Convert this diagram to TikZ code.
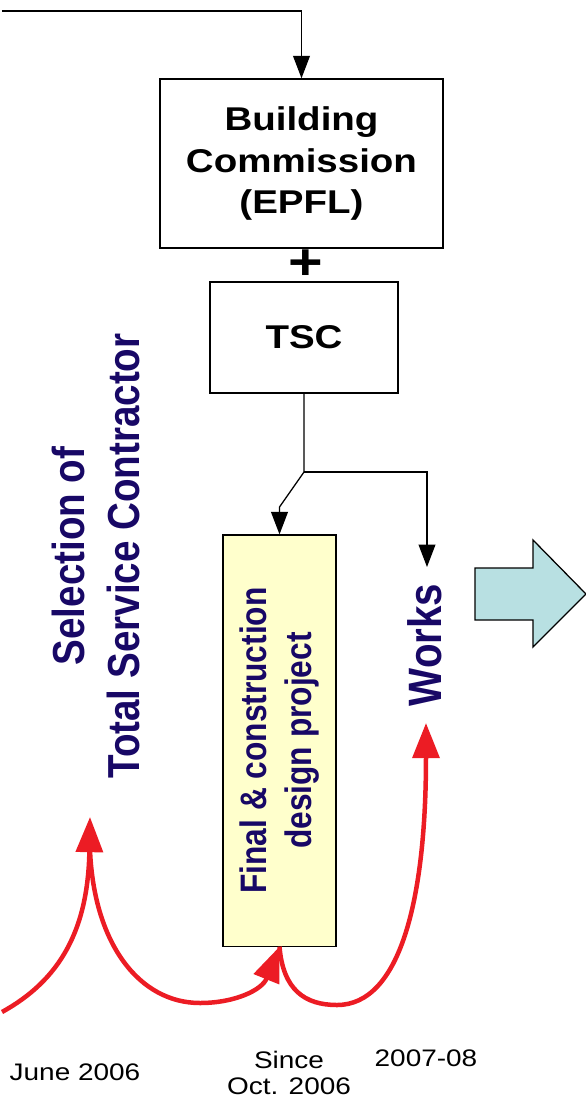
\documentclass[tikz,border=0pt]{standalone}
\usepackage{fontspec}
\setmainfont{Liberation Sans}
\newfontfamily\widesf[FakeStretch=1.17]{Liberation Sans}
\newfontfamily\narrowsf[FakeStretch=0.86]{Liberation Sans}
\usetikzlibrary{arrows.meta}
\definecolor{navytxt}{RGB}{24,8,102}
\definecolor{lightyel}{RGB}{255,255,204}
\definecolor{arrowcyan}{RGB}{184,224,226}
\definecolor{hopred}{RGB}{236,28,36}
\begin{document}
\begin{tikzpicture}[x=0.025cm,y=-0.025cm,
    boxsty/.style={draw,line width=1pt,align=center,
      font=\widesf\bfseries\fontsize{23.4}{29.8}\selectfont},
    linksty/.style={->,>={Triangle[length=16pt,width=12pt]},line width=0.9pt},
    hopsty/.style={->,>={Triangle[length=25pt,width=19pt]},line width=3.2pt,color=hopred},
    vertsty/.style={rotate=90,align=center,text=navytxt},
    datesty/.style={align=center,font=\widesf\fontsize{17}{19}\selectfont}]
    \useasboundingbox (0,0) rectangle (586,1101);
    % commission + contractor
    \node[boxsty,minimum width=7.075cm,minimum height=4.225cm] (bc) at (301.5,163.5) {Building\\Commission\\(EPFL)};
    \node[font=\widesf\bfseries\fontsize{36}{36}\selectfont] (plus) at (306,265) {+};
    \node[boxsty,minimum width=4.7cm,minimum height=2.775cm] (tsc) at (304,337.5) {TSC};
    \coordinate (start) at (2,11);
    \coordinate (corner) at (301.5,11);
    \draw[linksty] (start) -- (corner) -- (bc.north);

    % phases
    \node[vertsty,font=\narrowsf\bfseries\fontsize{31.9}{39.7}\selectfont] (sel) at (96,556)
    {Selection of\\Total Service Contractor};
    \node[vertsty,draw=black,line width=0.8pt,fill=lightyel,minimum width=10.275cm,minimum height=2.825cm,
      font=\narrowsf\bfseries\fontsize{26.2}{31.9}\selectfont] (fcd) at (279.5,740.5)
    {Final \& construction\\design project};
    \node[vertsty,font=\narrowsf\bfseries\fontsize{33.3}{40}\selectfont] (works) at (425,645) {Works};
    \coordinate (split) at (304,472);
    \coordinate (bend) at (279.5,507);
    \coordinate (worksin) at (427,567);
    \draw[linksty] (tsc.south) -- (split) -- (bend) -- (fcd.east);
    \draw[linksty] (split) -| (worksin);

    % big arrow
    \draw[fill=arrowcyan,line width=0.9pt] (475,568) -- (533,568) -- (533,540) -- (586,594)
    -- (533,647) -- (533,620) -- (475,620) -- cycle;

    % red hops
    \coordinate (h0) at (2,1012);
    \coordinate (h1) at (90,817);
    \coordinate (h1b) at (90,850);
    \coordinate (h2) at (200,1003);
    \coordinate (h3) at (337,1005);
    \coordinate (h4) at (426,723);
    \draw[hopsty] (h0) .. controls (60,980) and (88,930) .. (h1);
    \draw[hopsty] (h1b) .. controls (94,945) and (140,1003) .. (h2)
    .. controls (235,1003) and (262,990) .. (fcd.west);
    \draw[hopsty] (fcd.west) .. controls (283,990) and (305,1005) .. (h3)
    .. controls (400,1005) and (426,900) .. (h4);

    % dates
    \node[datesty] (d1) at (75,1072) {June 2006};
    \node[datesty] (d2) at (289,1073) {Since\\Oct. 2006};
    \node[datesty] (d3) at (426,1058) {2007-08};
  \end{tikzpicture}
\end{document}
